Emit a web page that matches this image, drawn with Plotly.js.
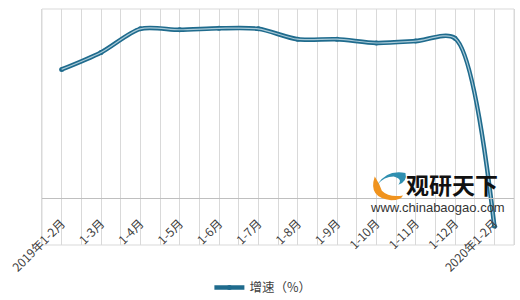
<!DOCTYPE html>
<html>
<head>
<meta charset="utf-8">
<script src="https://cdn.plot.ly/plotly-3.0.1.min.js"></script>
<style>
html,body{margin:0;padding:0;background:#fff;}
#chart{width:520px;height:300px;}
</style>
</head>
<body>
<div id="chart"></div>
<script>
var categories = ["2019年1-2月","1-3月","1-4月","1-5月","1-6月","1-7月","1-8月","1-9月","1-10月","1-11月","1-12月","2020年1-2月"];
var growth = [13.6, 15.4, 17.9, 17.8, 17.95, 17.9, 16.8, 16.8, 16.4, 16.6, 16.9, -3.0];
var seriesName = "增速（%）";

var idx = categories.map(function(_, i){ return i; });

var traces = [
  {
    x: idx, y: growth, type: "scatter", mode: "lines+markers",
    name: seriesName,
    line: {color: "#1f6b8d", width: 4.5, shape: "spline", smoothing: 0.8},
    marker: {color: "#1f6b8d", size: 5},
    showlegend: true
  },
  {
    x: idx, y: growth, type: "scatter", mode: "lines",
    name: seriesName,
    line: {color: "#a9cad8", width: 1.2, shape: "spline", smoothing: 0.8},
    showlegend: false, hoverinfo: "skip"
  }
];

var layout = {
  width: 520, height: 300,
  margin: {l: 42, r: 6, t: 9, b: 55, autoexpand: false},
  paper_bgcolor: "#ffffff", plot_bgcolor: "#ffffff",
  font: {family: "Noto Sans CJK SC, sans-serif", color: "#404040", size: 12},
  showlegend: true,
  legend: {orientation: "h", x: 0.468, xanchor: "center", y: -0.182, yanchor: "middle",
           font: {size: 12.5, color: "#404040"}},
  xaxis: {
    range: [-0.5, 11.5],
    tickvals: idx, ticktext: categories,
    tickangle: -45,
    tickfont: {size: 12, color: "#404040"},
    anchor: "free", position: 0.2,
    automargin: false,
    showline: true, linecolor: "#bfbfbf", linewidth: 1,
    ticks: "outside", ticklen: 13, tickcolor: "rgba(0,0,0,0)",
    showgrid: true, gridcolor: "#d9d9d9", gridwidth: 1,
    minor: {dtick: 0.5, tick0: 0.5, showgrid: true, gridcolor: "#d9d9d9", gridwidth: 1},
    zeroline: false, fixedrange: true
  },
  yaxis: {
    range: [-5, 20],
    automargin: false,
    showticklabels: false, showgrid: false, zeroline: false,
    showline: true, mirror: true, linecolor: "#d9d9d9", linewidth: 1,
    ticks: "", fixedrange: true
  },
  shapes: [
    {type: "rect", xref: "paper", yref: "paper", x0: 0, x1: 1, y0: 0, y1: 1,
     line: {color: "#d9d9d9", width: 1}, fillcolor: "rgba(0,0,0,0)", layer: "below"},
    {type: "path", xref: "paper", yref: "paper",
     path: "M 0.705 0.29 Q 0.69 0.2 0.74 0.19 Q 0.76 0.19 0.765 0.21 Q 0.735 0.2 0.72 0.23 Q 0.715 0.26 0.705 0.29 Z",
     fillcolor: "#f0931e", line: {width: 0}},
    {type: "path", xref: "paper", yref: "paper",
     path: "M 0.71 0.255 Q 0.73 0.32 0.77 0.305 Q 0.775 0.27 0.755 0.255 Q 0.765 0.28 0.745 0.29 Q 0.725 0.29 0.71 0.255 Z",
     fillcolor: "#2f8fb0", line: {width: 0}}
  ],
  annotations: [
    {xref: "paper", yref: "paper", x: 0.869, y: 0.26, text: "<b>观研天下</b>", showarrow: false,
     font: {family: "Noto Sans CJK SC, sans-serif", size: 23, color: "#111111"}, xanchor: "center", yanchor: "middle"},
    {xref: "paper", yref: "paper", x: 0.838, y: 0.157, text: "www.chinabaogao.com", showarrow: false,
     font: {family: "Liberation Sans, Arial, sans-serif", size: 13, color: "#333333"}, xanchor: "center", yanchor: "middle"}
  ]
};

Plotly.newPlot("chart", traces, layout, {displayModeBar: false, staticPlot: true});
</script>
</body>
</html>
